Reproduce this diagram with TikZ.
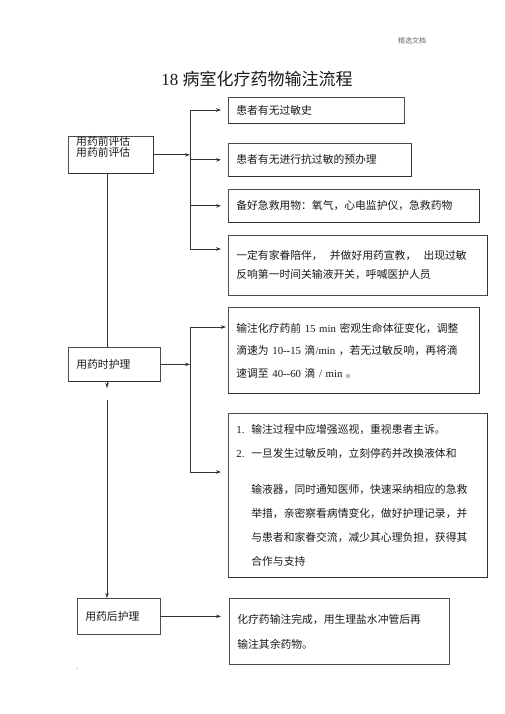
\documentclass[tikz,border=0pt]{standalone}
\usepackage{fontspec}
\setmainfont{Liberation Serif}
\newfontfamily\cjk{Noto Sans CJK SC}
\usetikzlibrary{arrows.meta}
\begin{document}
\begin{tikzpicture}[x=1pt,y=-1pt,
  box/.style={draw=black!70, line width=0.7pt, anchor=north west, inner xsep=8pt, inner ysep=0pt, align=left},
  heavy/.style={draw=black!80, line width=1.3pt},
  txt/.style={font=\cjk\fontsize{10.8}{13}\selectfont, text=black!90},
  conn/.style={draw=black!80, line width=0.8pt},
  arr/.style={conn, -{Stealth[length=5pt,width=3.5pt]}}]
\useasboundingbox (0,0) rectangle (505,714);
% header and title
\node[font=\cjk\fontsize{7}{8}\selectfont, text=black!60] (hdr) at (412,41) {精选文档};
\node[text=black!90] (title) at (257,79) {\fontsize{17}{19}\selectfont 18 {\cjk 病室化疗药物输注流程}};
% left boxes
\node[box, minimum width=85pt, minimum height=37pt] (A) at (68,136) {};
\node[anchor=north west, inner sep=0pt, align=left, font=\cjk\fontsize{10.8}{10}\selectfont, text=black!90] (Atxt) at (76,136) {用药前评估\\用药前评估};
\node[box, txt, minimum width=92pt, minimum height=34pt, text width=76pt] (M) at (68,347) {用药时护理};
\node[box, txt, minimum width=83pt, minimum height=36pt, text width=67pt] (P) at (77,598) {用药后护理};
% right boxes
\node[box, txt, minimum width=176pt, minimum height=26pt, text width=160pt] (B1) at (228,97) {患者有无过敏史};
\node[box, txt, minimum width=183pt, minimum height=33pt, text width=167pt] (B2) at (228,143) {患者有无进行抗过敏的预办理};
\node[box, txt, minimum width=251pt, minimum height=33pt, text width=235pt] (B3) at (228,189) {备好急救用物：氧气，心电监护仪，急救药物};
\node[box, txt, font=\cjk\fontsize{10.8}{19}\selectfont, minimum width=259pt, minimum height=60pt, text width=243pt] (B4) at (228,235) {一定有家眷陪伴，\ \ 并做好用药宣教，\ \ 出现过敏\\反响第一时间关输液开关，呼喊医护人员};
\node[box, txt, font=\cjk\fontsize{10.8}{22.5}\selectfont, minimum width=251pt, minimum height=86pt, text width=235pt] (B5) at (228,307) {输注化疗药前 {\rmfamily 15 min} 密观生命体征变化，调整\\滴速为 {\rmfamily 10-{}-15} 滴{\rmfamily /min} ，若无过敏反响，再将滴\\速调至 {\rmfamily 40-{}-60} 滴 {\rmfamily / min} 。};
\node[box, txt, font=\cjk\fontsize{10.8}{24}\selectfont, minimum width=259pt, minimum height=164pt, text width=243pt] (B6) at (228,413) {\makebox[15pt][l]{\rmfamily 1.}输注过程中应增强巡视，重视患者主诉。\\\makebox[15pt][l]{\rmfamily 2.}一旦发生过敏反响，立刻停药并改换液体和\\[12pt]\hspace*{15pt}输液器，同时通知医师，快速采纳相应的急救\\\hspace*{15pt}举措，亲密察看病情变化，做好护理记录，并\\\hspace*{15pt}与患者和家眷交流，减少其心理负担，获得其\\\hspace*{15pt}合作与支持};
\node[box, txt, font=\cjk\fontsize{10.8}{25}\selectfont, minimum width=220pt, minimum height=66pt, text width=204pt] (B7) at (229,598) {化疗药输注完成，用生理盐水冲管后再\\输注其余药物。};
\node[inner sep=0pt, font=\fontsize{6}{6}\selectfont] (dot) at (77,669) {.};
% heavier right / bottom edges
\draw[heavy] (A.north east) -- (A.south east) -- (A.south west);
\draw[heavy] (M.south east) -- (M.south west);
\draw[heavy] (B1.south east) -- (B1.south west);
\draw[heavy] (B2.north east) -- (B2.south east) -- (B2.south west);
\draw[heavy] (B3.north east) -- (B3.south east) -- (B3.south west);
\draw[heavy] (B4.north east) -- (B4.south east);
\draw[heavy] (B5.north east) -- (B5.south east) -- (B5.south west);
\draw[heavy] (B6.north east) -- (B6.south east) -- (B6.south west);
% connectors
\coordinate (bus1t) at (190,110);
\coordinate (bus1b) at (190,249);
\coordinate (bus2t) at (190,327);
\coordinate (bus2b) at (190,472);
\coordinate (L) at (107,0);
\coordinate (stub) at (107,388);
\coordinate (L2) at (107,400);
\draw[conn] (bus1t) -- (bus1b);
\draw[arr, shorten >=7pt] (bus1t) -- (bus1t -| B1.west);
\draw[arr, shorten >=7pt] (bus1t |- B2.west) -- (B2.west);
\draw[arr, shorten >=7pt] (bus1t |- B3.west) -- (B3.west);
\draw[arr, shorten >=7pt] (bus1b) -- (bus1b -| B4.west);
\draw[arr] (A.east) -- (A.east -| bus1t);
\draw[conn] (A.south -| L) -- (M.north -| L);
\draw[arr] (M.south -| L) -- (stub);
\draw[arr] (L2) -- (P.north -| L2);
\draw[conn] (bus2t) -- (bus2b);
\draw[arr, shorten >=2pt] (bus2t) -- (bus2t -| B5.west);
\draw[arr, shorten >=7pt] (bus2b) -- (bus2b -| B6.west);
\draw[arr] (M.east) -- (M.east -| bus2t);
\draw[arr, shorten >=8pt] (P.east) -- (P.east -| B7.west);
\end{tikzpicture}
\end{document}
